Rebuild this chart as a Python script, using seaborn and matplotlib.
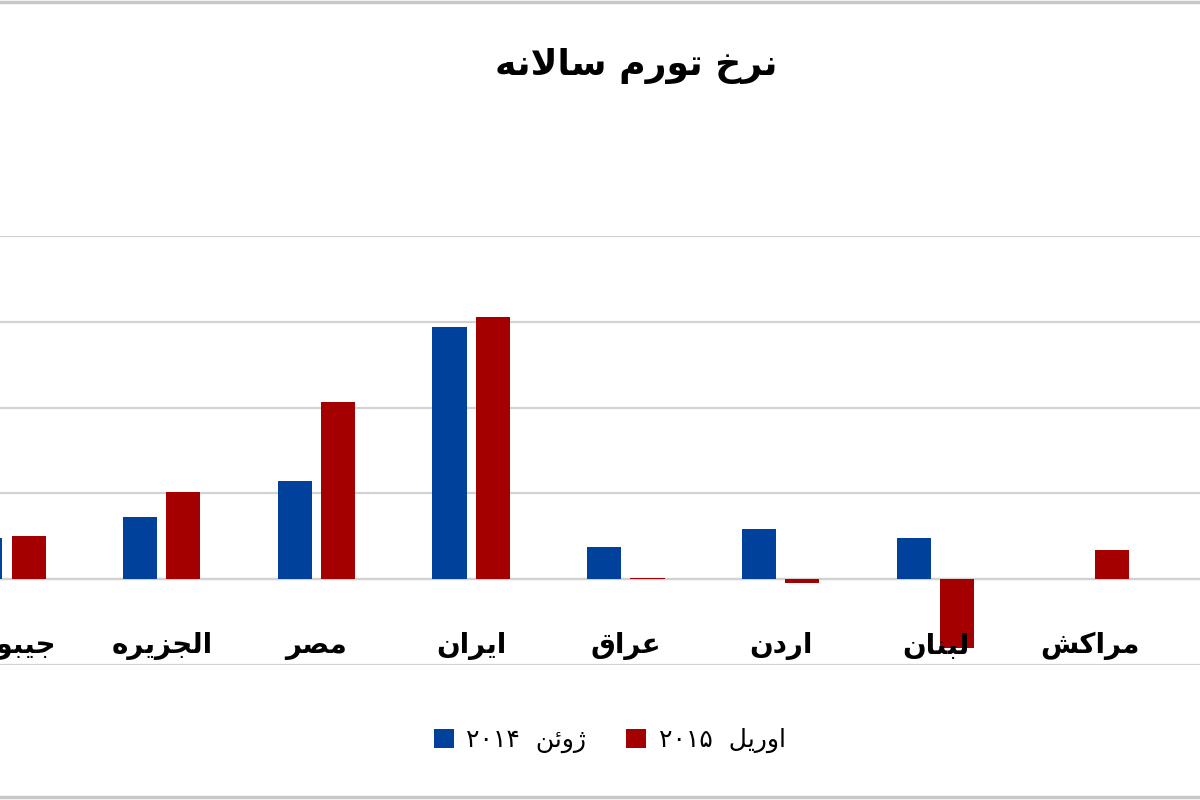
import pandas as pd
import matplotlib.pyplot as plt
import seaborn as sns
from matplotlib.lines import Line2D

# data (percent)
countries = ['جیبوتی', 'الجزیره', 'مصر', 'ایران', 'عراق', 'اردن', 'لبنان', 'مراکش']
jun_2014 = [2.4, 3.6, 5.7, 14.7, 1.9, 2.9, 2.4, 0.0]
apr_2015 = [2.5, 5.1, 10.3, 15.3, 0.05, -0.2, -4.0, 1.7]
series_names = ['ژوئن ۲۰۱۴', 'اوریل ۲۰۱۵']
title = 'نرخ تورم سالانه'

# simple arabic/persian shaping: (isolated, final, initial, medial)
FORMS = {
    'ا': ('\uFE8D', '\uFE8E', None, None),
    'ب': ('\uFE8F', '\uFE90', '\uFE91', '\uFE92'),
    'ت': ('\uFE95', '\uFE96', '\uFE97', '\uFE98'),
    'ج': ('\uFE9D', '\uFE9E', '\uFE9F', '\uFEA0'),
    'خ': ('\uFEA5', '\uFEA6', '\uFEA7', '\uFEA8'),
    'د': ('\uFEA9', '\uFEAA', None, None),
    'ر': ('\uFEAD', '\uFEAE', None, None),
    'ز': ('\uFEAF', '\uFEB0', None, None),
    'ژ': ('\uFB8A', '\uFB8B', None, None),
    'س': ('\uFEB1', '\uFEB2', '\uFEB3', '\uFEB4'),
    'ش': ('\uFEB5', '\uFEB6', '\uFEB7', '\uFEB8'),
    'ص': ('\uFEB9', '\uFEBA', '\uFEBB', '\uFEBC'),
    'ع': ('\uFEC9', '\uFECA', '\uFECB', '\uFECC'),
    'ق': ('\uFED5', '\uFED6', '\uFED7', '\uFED8'),
    'ک': ('\uFB8E', '\uFB8F', '\uFB90', '\uFB91'),
    'ل': ('\uFEDD', '\uFEDE', '\uFEDF', '\uFEE0'),
    'م': ('\uFEE1', '\uFEE2', '\uFEE3', '\uFEE4'),
    'ن': ('\uFEE5', '\uFEE6', '\uFEE7', '\uFEE8'),
    'ه': ('\uFEE9', '\uFEEA', '\uFEEB', '\uFEEC'),
    'و': ('\uFEED', '\uFEEE', None, None),
    'ی': ('\uFBFC', '\uFBFD', '\uFBFE', '\uFBFF'),
    'ئ': ('\uFE89', '\uFE8A', '\uFE8B', '\uFE8C'),
}


def shape_word(word):
    # lam-alef ligature first
    chars = []
    i = 0
    while i < len(word):
        if word[i] == 'ل' and i + 1 < len(word) and word[i + 1] == 'ا':
            chars.append('LA')
            i += 2
        else:
            chars.append(word[i])
            i += 1

    def joins_left(c):
        return c in FORMS and FORMS[c][2] is not None

    def joins_right(c):
        return c in FORMS or c == 'LA'

    out = []
    for k, c in enumerate(chars):
        prev_joins = k > 0 and joins_left(chars[k - 1]) and joins_right(c)
        if c == 'LA':
            out.append('\uFEFC' if prev_joins else '\uFEFB')
            continue
        if c not in FORMS:
            out.append(c)
            continue
        nxt = chars[k + 1] if k + 1 < len(chars) else None
        next_joins = nxt is not None and joins_left(c) and joins_right(nxt)
        iso, fin, ini, med = FORMS[c]
        if prev_joins and next_joins:
            out.append(med)
        elif prev_joins:
            out.append(fin)
        elif next_joins:
            out.append(ini)
        else:
            out.append(iso)
    return ''.join(out)[::-1]


def rtl(text, sep=' '):
    words = text.split(' ')
    shaped = []
    for w in reversed(words):
        if all(ch.isdigit() for ch in w):
            shaped.append(w)
        else:
            shaped.append(shape_word(w))
    return sep.join(shaped)


df = pd.DataFrame({
    'country': countries * 2,
    'value': jun_2014 + apr_2015,
    'period': [series_names[0]] * len(countries) + [series_names[1]] * len(countries),
})

sns.set_style('white')
plt.rcParams['font.family'] = ['DejaVu Sans']
plt.rcParams['text.color'] = 'black'

fig = plt.figure(figsize=(12, 8), dpi=100)
ax = fig.add_axes([0, 0.16875, 1, 0.53625])

sns.barplot(data=df, x='country', y='value', hue='period', order=countries,
            hue_order=series_names, palette=['#00429B', '#A50000'],
            width=0.56, gap=0.21, dodge=True, errorbar=None, ax=ax,
            saturation=1, linewidth=0, zorder=3)

ax.set_xlim(-0.045, 7.71)
ax.set_ylim(-5, 20)
ax.set_yticks(range(-5, 21, 5))
ax.yaxis.grid(True, color='#d2d2d2', linewidth=1.6, zorder=0)
ax.set_axisbelow(True)
ax.xaxis.set_zorder(4)  # category names drawn over the bars
ax.tick_params(axis='y', left=False, labelleft=False)
ax.tick_params(axis='x', length=0, pad=38, labelcolor='black')
for s in ['top', 'right', 'left']:
    ax.spines[s].set_visible(False)
ax.spines['bottom'].set_position(('data', 0))
ax.spines['bottom'].set_color('#d2d2d2')
ax.spines['bottom'].set_linewidth(1.6)
ax.spines['bottom'].set_zorder(2)
ax.set_xticks(range(len(countries)))
ax.set_xticklabels([rtl(c) for c in countries], fontsize=20, fontweight='bold')
ax.set_xlabel('')
ax.set_ylabel('')

handles, labels = ax.get_legend_handles_labels()
ax.legend(handles, [rtl(l, sep='  ') for l in labels], ncol=2, loc='center',
          bbox_to_anchor=(0.508, 0.074), bbox_transform=fig.transFigure,
          frameon=False, fontsize=18, handlelength=0.8, handleheight=0.8,
          columnspacing=1.6, handletextpad=0.5, labelcolor='black')

fig.text(0.53, 0.918, rtl(title), ha='center', va='center', fontsize=26,
         fontweight='bold', color='black')

# frame lines at the very top and bottom of the picture
fig.add_artist(Line2D([0, 1], [0.997, 0.997], transform=fig.transFigure, color='#c8c8c8', linewidth=2.5))
fig.add_artist(Line2D([0, 1], [0.004, 0.004], transform=fig.transFigure, color='#c8c8c8', linewidth=2.5))

fig.savefig('out.png', dpi=100)
